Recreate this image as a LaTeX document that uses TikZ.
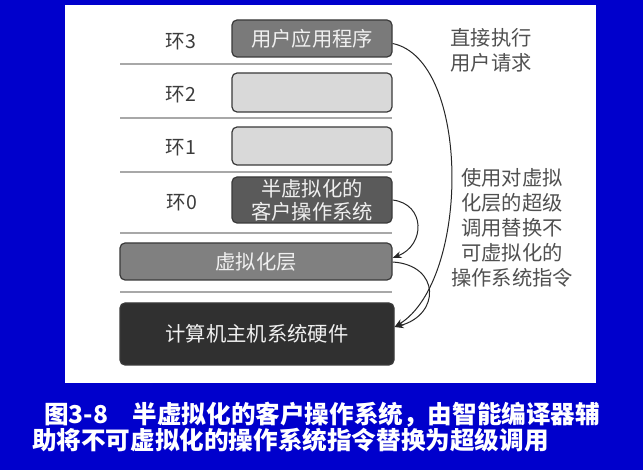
\documentclass[tikz,border=0pt]{standalone}
\usepackage{fontspec}
\setmainfont{Noto Sans CJK SC}
\newfontfamily\cjk{Noto Sans CJK SC}
\usetikzlibrary{arrows.meta}
\definecolor{bgblue}{HTML}{0000CC}
\definecolor{gapp}{HTML}{7A7A7A}
\definecolor{gempty}{HTML}{D9D9D9}
\definecolor{gguest}{HTML}{5A5A5A}
\definecolor{gvl}{HTML}{808080}
\definecolor{ghw}{HTML}{303030}
\definecolor{bordc}{HTML}{3A3A3A}
\definecolor{sepc}{HTML}{A8A8A8}
\definecolor{labc}{HTML}{3C3C3C}
\tikzset{
  ringbox/.style={draw=bordc, line width=1.2pt, rounded corners=5pt, inner sep=0pt,
    text=white!94!black, font=\cjk\fontsize{20.3}{23}\selectfont, align=center},
  ringlab/.style={text=labc, font=\cjk\fontsize{19.5}{22}\selectfont, inner sep=0pt},
  sidetext/.style={text=labc!90!white, font=\cjk\fontsize{20.3}{25}\selectfont, align=center, inner sep=0pt},
  sepline/.style={draw=sepc, line width=1.6pt},
  callarrow/.style={draw=black!85, line width=1pt, -{Stealth[length=9pt,width=7pt]}},
  captext/.style={text=white, font=\cjk\bfseries\fontsize{24.6}{29}\selectfont, anchor=west, inner sep=0pt}
}
\begin{document}
\begin{tikzpicture}[x=1pt,y=-1pt]
\useasboundingbox (0,0) rectangle (643,470);
\fill[bgblue] (0,0) rectangle (643,470);
\fill[white] (65,5) rectangle (596,383);

% separator lines
\foreach \yy in {64,118,172,233,292}{
  \draw[sepline] (120,\yy) -- (392,\yy);
}

% ring labels
\node[ringlab] (l3) at (181,42) {环3};
\node[ringlab] (l2) at (181,95) {环2};
\node[ringlab] (l1) at (181,148) {环1};
\node[ringlab] (l0) at (182,203) {环0};

% boxes
\node[ringbox, fill=gapp, minimum width=160pt, minimum height=37pt] (app) at (312,38.5) {用户应用程序};
\node[ringbox, fill=gempty, minimum width=160pt, minimum height=39pt] (r2) at (312,92.5) {};
\node[ringbox, fill=gempty, minimum width=160pt, minimum height=38pt] (r1) at (312,146) {};
\node[ringbox, fill=gguest, minimum width=160pt, minimum height=46pt] (guest) at (312,200) {半虚拟化的\\客户操作系统};
\node[ringbox, fill=gvl, minimum width=272pt, minimum height=37pt] (vl) at (256,261.5) {虚拟化层};
\node[ringbox, fill=ghw, minimum width=274pt, minimum height=62pt] (hw) at (257,334) {计算机主机系统硬件};

% side texts
\node[sidetext] (t1) at (491,50.5) {直接执行\\用户请求};
\node[sidetext] (t2) at (512,228) {使用对虚拟\\化层的超级\\调用替换不\\可虚拟化的\\操作系统指令};

% arrows
\draw[callarrow] ([yshift=-5pt]app.east) .. controls +(78,16) and +(76,-47) .. ([yshift=7pt]hw.east);
\draw[callarrow] (guest.east) .. controls +(33,4) and +(33,-13) .. ([yshift=3.5pt]vl.east);
\draw[callarrow] ([yshift=-0.5pt]vl.east) .. controls +(48,3) and +(46,-12) .. ([yshift=7pt]hw.east);

% caption
\node[captext] (cap1) at (44,415) {图3-8　半虚拟化的客户操作系统，由智能编译器辅};
\node[captext] (cap2) at (32,440) {助将不可虚拟化的操作系统指令替换为超级调用};
\end{tikzpicture}
\end{document}
